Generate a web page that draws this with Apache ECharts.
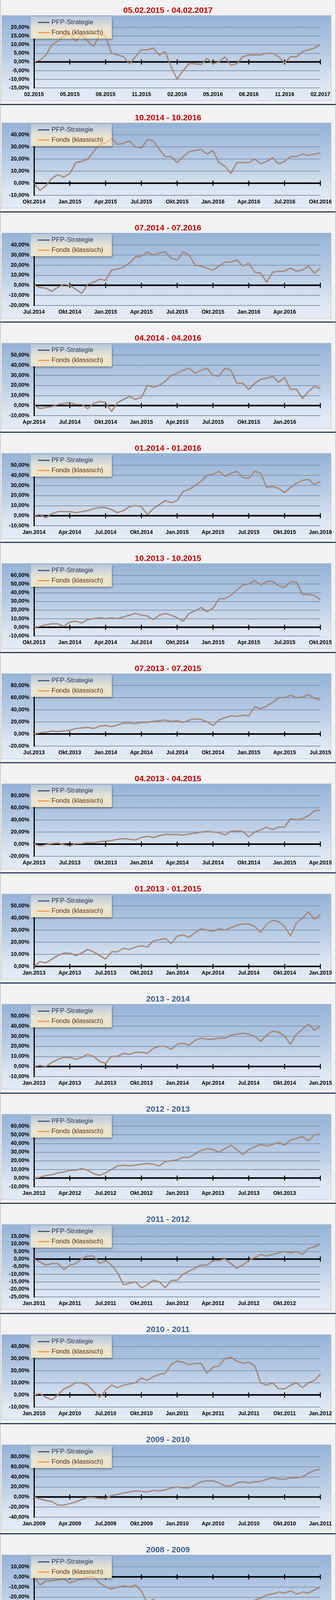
<!DOCTYPE html>
<html>
<head>
<meta charset="UTF-8">
<title>PFP-Strategie vs. Fonds</title>
<script src="https://cdn.jsdelivr.net/npm/echarts@6/dist/echarts.min.js"></script>
<style>
  html, body { margin: 0; background: #f2f2f2; overflow: hidden; }
  #page { position: relative; width: 860px; height: 4232px; border-left: 1px solid #a6a6a6; border-right: 1px solid #a6a6a6; box-sizing: border-box; }
  .panel { position: absolute; left: 0; width: 858px; height: 282px; }
  .box { position: absolute; left: 3px; top: 32px; width: 842px; height: 217px; border: 1px solid #b4bfcc;
         background: linear-gradient(to bottom, #95b3d7 0%, #b8cce4 45%, #dce6f2 80%, #e4ebf5 100%); }
  .sep { position: absolute; left: 0; top: 259px; width: 858px; height: 3px; background: #243f60; }
  .chart { position: absolute; left: 0; top: 0; width: 858px; height: 262px; }
</style>
</head>
<body>
<div id="page"></div>
<script>
// Titel der 15 Zeitraeume
var titles = ['05.02.2015 - 04.02.2017', '10.2014 - 10.2016', '07.2014 - 07.2016', '04.2014 - 04.2016',
  '01.2014 - 01.2016', '10.2013 - 10.2015', '07.2013 - 07.2015', '04.2013 - 04.2015', '01.2013 - 01.2015',
  '2013 - 2014', '2012 - 2013', '2011 - 2012', '2010 - 2011', '2009 - 2010', '2008 - 2009'];

// Beschriftung der x-Achse (alle 3 Monate)
var tickLabels = [
  ['02.2015', '05.2015', '08.2015', '11.2015', '02.2016', '05.2016', '08.2016', '11.2016', '02.2017'],
  ['Okt.2014', 'Jan.2015', 'Apr.2015', 'Jul.2015', 'Okt.2015', 'Jan.2016', 'Apr.2016', 'Jul.2016', 'Okt.2016'],
  ['Jul.2014', 'Okt.2014', 'Jan.2015', 'Apr.2015', 'Jul.2015', 'Okt.2015', 'Jan.2016', 'Apr.2016', ''],
  ['Apr.2014', 'Jul.2014', 'Okt.2014', 'Jan.2015', 'Apr.2015', 'Jul.2015', 'Okt.2015', 'Jan.2016', ''],
  ['Jan.2014', 'Apr.2014', 'Jul.2014', 'Okt.2014', 'Jan.2015', 'Apr.2015', 'Jul.2015', 'Okt.2015', 'Jan.2016'],
  ['Okt.2013', 'Jan.2014', 'Apr.2014', 'Jul.2014', 'Okt.2014', 'Jan.2015', 'Apr.2015', 'Jul.2015', 'Okt.2015'],
  ['Jul.2013', 'Okt.2013', 'Jan.2014', 'Apr.2014', 'Jul.2014', 'Okt.2014', 'Jan.2015', 'Apr.2015', 'Jul.2015'],
  ['Apr.2013', 'Jul.2013', 'Okt.2013', 'Jan.2014', 'Apr.2014', 'Jul.2014', 'Okt.2014', 'Jan.2015', 'Apr.2015'],
  ['Jan.2013', 'Apr.2013', 'Jul.2013', 'Okt.2013', 'Jan.2014', 'Apr.2014', 'Jul.2014', 'Okt.2014', 'Jan.2015'],
  ['Jan.2013', 'Apr.2013', 'Jul.2013', 'Okt.2013', 'Jan.2014', 'Apr.2014', 'Jul.2014', 'Okt.2014', 'Jan.2015'],
  ['Jan.2012', 'Apr.2012', 'Jul.2012', 'Okt.2012', 'Jan.2013', 'Apr.2013', 'Jul.2013', 'Okt.2013', ''],
  ['Jan.2011', 'Apr.2011', 'Jul.2011', 'Okt.2011', 'Jan.2012', 'Apr.2012', 'Jul.2012', 'Okt.2012', ''],
  ['Jan.2010', 'Apr.2010', 'Jul.2010', 'Okt.2010', 'Jan.2011', 'Apr.2011', 'Jul.2011', 'Okt.2011', 'Jan.2012'],
  ['Jan.2009', 'Apr.2009', 'Jul.2009', 'Okt.2009', 'Jan.2010', 'Apr.2010', 'Jul.2010', 'Okt.2010', 'Jan.2011'],
  ['Jan.2008', 'Apr.2008', 'Jul.2008', 'Okt.2008', 'Jan.2009', 'Apr.2009', 'Jul.2009', 'Okt.2009', 'Jan.2010']
];

// Monatspositionen der Achsenstriche auf der Nulllinie
var tickMonths = [0, 3, 6, 9, 12, 15, 18, 21, 24];

// y-Achse: [min, max, Schritt] in %
var yRanges = [[-15, 20, 5], [-10, 40, 10], [-20, 40, 10], [-10, 50, 10], [-10, 50, 10],
  [-10, 60, 10], [-20, 80, 20], [-20, 80, 20], [0, 50, 10], [-10, 50, 10],
  [-10, 60, 10], [-25, 15, 5], [-10, 40, 10], [-40, 80, 20], [-50, 10, 10]];

// Wertentwicklung in %, halbmonatlich (49 Werte je Zeitraum)
var perf = [
  [0, 1, 4, 10, 12, 15, 16, 12, 16, 12, 9, 16, 15, 5, 4, 3, -1, 3, 7, 7, 8, 4, 6, -3, -10, -5, -1, -1, -1.5, 2, -1, 0, 3, -2, -1, 3, 4, 4, 4, 5, 5, 3, -0.5, 3, 3, 6, 7, 8, 10],
  [0, -6, -2, 4, 7, 5, 8, 17, 18, 20, 26, 32, 33, 37, 32, 33, 35, 30, 29, 36, 35, 28, 22, 22, 17, 22, 26, 27, 28, 24, 27, 17, 14, 8, 17, 17, 17, 20, 16, 18, 21, 16, 18, 22, 22, 24, 23, 24, 25],
  [0, -2, -3, -6, -2, 1, 0, -4, -8, 1, 3, 6, 5, 15, 16, 18, 22, 28, 29, 33, 30, 32, 33, 27, 25, 33, 30, 20, 19, 17, 15, 19, 23, 23, 25, 19, 22, 13, 12, 3, 13, 14, 14, 17, 14, 15, 19, 12, 17],
  [0, -3, -2, -1, 1, 2, 3, 1, 1, -3, 2, 4, 3, -6, 3, 6, 9, 6, 8, 20, 18, 20, 24, 30, 32, 35, 37, 32, 35, 37, 30, 29, 37, 35, 22, 22, 16, 22, 26, 27, 29, 23, 28, 16, 16, 7, 14, 19, 17],
  [0, 1, -2, 2, 4, 4, 4, 3, 4, 5, 7, 8, 8, 6, 3, 5, 9, 10, 9, 1, 7, 11, 15, 13, 15, 24, 26, 30, 34, 40, 41, 44, 39, 42, 44, 38, 37, 44, 42, 28, 29, 27, 23, 28, 32, 35, 36, 31, 34],
  [0, 1, 3, 4, 4, 1, 6, 7, 5, 9, 10, 11, 10, 11, 10, 12, 14, 16, 14, 13, 9, 14, 16, 14, 11, 7, 16, 19, 23, 18, 22, 33, 33, 37, 43, 49, 50, 54, 49, 53, 53, 48, 46, 53, 52, 38, 38, 37, 32],
  [0, 2, 3, 5, 4, 5, 6, 9, 10, 11, 9, 13, 14, 12, 15, 18, 18, 17, 19, 19, 21, 22, 23, 21, 22, 19, 23, 25, 24, 20, 14, 23, 27, 30, 29, 31, 30, 45, 42, 46, 52, 60, 60, 64, 60, 61, 65, 59, 56],
  [0, -3, -1, 1, 2, -1, -3, 1, 1, 3, 2, 4, 5, 6, 8, 9, 8, 7, 11, 13, 11, 14, 16, 16, 16, 15, 17, 18, 20, 21, 20, 19, 15, 21, 22, 21, 12, 20, 24, 28, 24, 28, 28, 42, 40, 42, 47, 55, 56],
  [0, 4, 3, 6, 9, 11, 11, 9, 11, 14, 12, 9, 6, 12, 12, 15, 14, 16, 17, 16, 21, 22, 23, 19, 25, 26, 24, 28, 31, 30, 29, 31, 30, 32, 34, 35, 35, 33, 28, 35, 38, 37, 33, 25, 36, 40, 45, 39, 43],
  [0, 1, 0, 4, 7, 9, 9, 7, 9, 12, 10, 5, 3, 10, 10, 13, 12, 14, 14, 13, 18, 20, 20, 17, 22, 23, 21, 26, 28, 27, 27, 28, 28, 31, 32, 33, 32, 30, 25, 31, 35, 34, 30, 22, 32, 37, 42, 36, 40],
  [0, 1, 3, 4, 6, 7, 9, 9, 11, 9, 5, 3, 6, 10, 14, 15, 14, 15, 16, 17, 16, 14, 19, 20, 21, 24, 24, 28, 32, 34, 33, 30, 34, 38, 33, 27, 33, 36, 39, 37, 39, 41, 38, 44, 46, 48, 43, 50, 51],
  [0, -2, -4, -3, -3, -7, -4, -3, 0, 2, 2, -3, -1, -4, -9, -17, -16, -15, -19, -17, -14, -15, -19, -14, -14, -10, -8, -6, -4, -4, -1, -1, 0, -3, -6, -4, -1, 1, 3, 2, 3, 4, 5, 4, 5, 3, 7, 8, 10],
  [0, 1, -2, -4, 0, 5, 7, 10, 10, 8, 3, -2, 4, 8, 6, 8, 9, 10, 14, 12, 15, 17, 18, 25, 28, 27, 25, 26, 26, 18, 23, 24, 30, 31, 28, 26, 27, 24, 10, 8, 10, 5, 5, 8, 10, 6, 10, 12, 17],
  [0, -4, -7, -9, -16, -16, -13, -10, -5, -1, -1, -3, -3, 3, 5, 8, 10, 12, 11, 10, 13, 12, 14, 18, 20, 18, 18, 24, 30, 32, 32, 28, 22, 22, 28, 30, 28, 30, 31, 35, 38, 36, 35, 38, 38, 40, 47, 53, 55],
  [0, -8, -4, -4, -3, -2, -6, -4, -2, 0, 0, -6, -10, -12, -10, -9, -10, -8, -14, -26, -22, -31, -29, -31, -27, -28, -31, -32, -39, -37, -35, -31, -28, -26, -26, -28, -27, -23, -21, -18, -17, -15, -16, -14, -17, -15, -16, -13, -10]
];

var FONT = '"Liberation Sans Narrow", "Liberation Sans", sans-serif';
var page = document.getElementById('page');

function pct(v) { return v.toFixed(2).replace('.', ',') + '%'; }

for (var k = 0; k < titles.length; k++) {
    var panel = document.createElement('div');
    panel.className = 'panel';
    panel.style.top = (282 * k + (k === 0 ? 7 : 0)) + 'px';
    panel.innerHTML = '<div class="box"></div><div class="sep"></div><div class="chart"></div>';
    page.appendChild(panel);

    var vals = perf[k];
    var n = vals.length;
    var pts = vals.map(function (v, i) { return [i * 24 / (n - 1), v]; });
    var labels = tickLabels[k];
    var yr = yRanges[k];

    var chart = echarts.init(panel.querySelector('.chart'));
    chart.setOption({
        animation: false,
        title: {
            text: titles[k], left: 'center', top: 5,
            textStyle: { fontFamily: FONT, fontSize: 21, fontWeight: 'bold', color: k < 9 ? '#c00000' : '#366092' }
        },
        legend: {
            orient: 'vertical', left: 78, top: 35, itemGap: 9, itemWidth: 30, itemHeight: 3,
            padding: [7, 22, 7, 18],
            icon: 'rect',
            backgroundColor: { type: 'linear', x: 0, y: 0, x2: 0, y2: 1,
                colorStops: [{ offset: 0, color: '#b9c8db' }, { offset: 0.55, color: '#e9e4d3' }, { offset: 1, color: '#efe3c3' }] },
            shadowColor: 'rgba(0,0,0,0.35)', shadowBlur: 5, shadowOffsetX: 2, shadowOffsetY: 3,
            data: [
                { name: 'PFP-Strategie', textStyle: { color: '#1f3864' } },
                { name: 'Fonds (klassisch)', textStyle: { color: '#5a2e0e' } }
            ],
            textStyle: { fontFamily: FONT, fontSize: 17 }
        },
        grid: { left: 86, right: 39, top: 63, height: 155 },
        xAxis: {
            type: 'value', min: 0, max: 24, interval: 3,
            axisLine: { show: false }, axisTick: { show: false }, splitLine: { show: false },
            axisLabel: {
                fontFamily: FONT, fontSize: 14, fontWeight: 'bold', color: '#000', margin: 10,
                formatter: (function (lb) { return function (v) { return lb[Math.round(v / 3)] || ''; }; })(labels)
            }
        },
        yAxis: {
            type: 'value', min: yr[0], max: yr[1], interval: yr[2],
            axisLine: { show: true, onZero: false, lineStyle: { color: '#000', width: 3 } },
            axisTick: { show: false },
            splitLine: { lineStyle: { color: '#8496b0', width: 2 } },
            axisLabel: { fontFamily: FONT, fontSize: 14, fontWeight: 'bold', color: '#000', margin: 12, formatter: pct }
        },
        series: [
            { name: 'Nulllinie', type: 'line', data: tickMonths.map(function (m) { return [m, 0]; }),
              showSymbol: true, symbol: 'rect', symbolSize: [2.5, 13], silent: true, z: 2,
              lineStyle: { color: '#000', width: 4 }, itemStyle: { color: '#000' } },
            { name: 'PFP-Strategie', type: 'line', data: pts, showSymbol: false, z: 3,
              lineStyle: { color: '#4a6a96', width: 3 }, itemStyle: { color: '#3b5a86' } },
            { name: 'Fonds (klassisch)', type: 'line', data: pts, showSymbol: false, z: 4,
              lineStyle: { color: '#f79646', width: 1.5 }, itemStyle: { color: '#f79646' } }
        ]
    });
}
</script>
</body>
</html>
